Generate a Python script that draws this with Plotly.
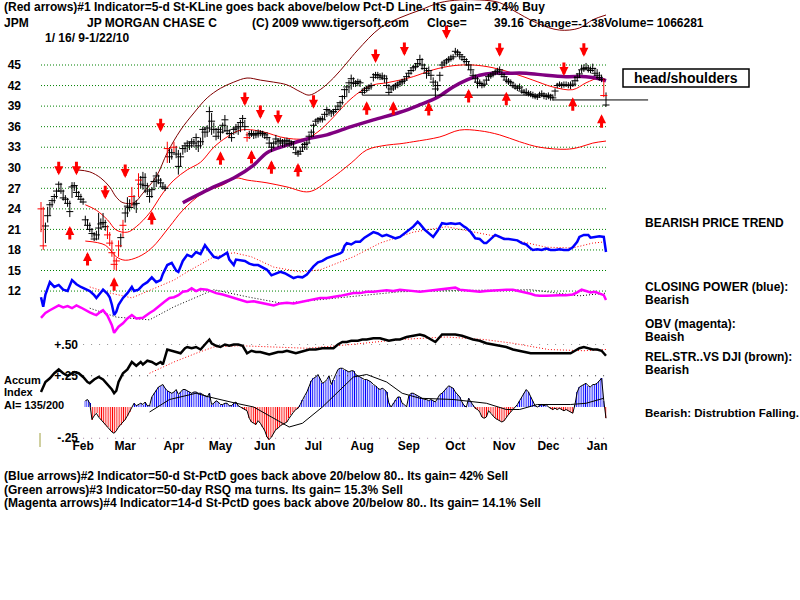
import plotly.graph_objects as go

# ---------------- data (trading-day index 0 = 1/16/09 ... 255 = 1/22/10) -------------
HIGH = [25.0,24.3,22.0,24.3,25.0,25.6,26.2,27.0,28.0,27.8,
        26.8,26.0,25.6,25.2,27.9,27.9,27.4,26.6,26.2,25.6,
        23.0,22.5,22.0,21.2,20.6,20.8,23.4,22.6,23.4,22.4,
        21.6,20.6,19.4,17.6,16.8,19.4,20.4,22.4,24.3,25.7,
        25.4,27.2,26.0,25.3,29.2,28.8,29.4,29.2,27.8,26.8,
        27.2,28.6,29.4,29.0,28.5,27.8,27.6,33.8,33.0,32.8,
        33.8,33.2,32.6,32.2,33.3,33.6,34.0,33.8,34.3,34.2,
        35.0,34.0,34.4,36.0,36.0,36.2,38.9,38.0,36.6,35.8,
        36.0,36.0,36.6,37.7,36.2,35.6,35.2,36.0,36.4,36.5,
        37.0,37.7,37.0,35.2,35.4,35.5,35.4,35.5,35.6,35.5,
        35.4,35.2,35.2,34.5,33.6,34.0,34.8,34.3,34.4,34.2,
        34.3,34.4,34.2,34.0,33.8,33.0,32.6,32.9,33.6,33.8,
        34.0,35.0,35.6,36.5,37.2,37.4,37.5,37.6,38.2,38.9,
        38.6,38.4,38.6,38.9,39.4,39.8,40.6,41.6,42.1,42.8,
        43.6,43.2,42.8,43.0,42.9,41.6,41.8,42.0,42.2,42.4,
        43.8,44.0,44.0,43.8,43.9,43.6,43.5,42.2,42.0,42.2,
        42.4,42.6,42.8,43.0,43.2,43.8,44.2,44.6,45.0,45.3,
        45.8,46.5,46.0,45.2,44.6,44.8,44.2,43.2,42.8,42.6,
        44.0,45.6,45.8,46.0,46.3,46.5,46.6,47.5,47.3,47.0,
        46.6,46.3,46.0,45.5,44.9,44.2,43.6,43.3,42.9,42.6,
        42.7,43.2,43.7,43.9,44.1,44.4,44.6,44.8,44.2,43.8,
        43.3,43.1,42.9,42.6,42.3,42.1,42.3,41.8,41.5,41.6,
        41.3,41.2,41.1,40.9,40.8,41.1,41.3,41.0,40.9,41.0,
        40.8,40.7,41.6,42.4,42.6,42.5,42.6,42.6,42.5,42.6,
        42.7,43.4,43.8,44.3,45.0,45.1,45.3,45.0,44.8,45.2,
        44.6,44.4,44.0,43.6,43.0,41.0]
LOW = [20.6,18.0,19.0,22.0,23.0,24.2,24.8,25.5,26.5,26.2,
       25.2,24.8,24.3,22.8,25.6,26.6,25.8,25.4,24.9,24.6,
       21.6,21.0,20.6,19.8,19.3,19.4,19.5,21.0,21.2,20.8,
       19.6,18.6,17.0,15.1,15.0,17.0,18.4,19.9,22.0,22.8,
       23.6,24.3,24.0,23.4,25.7,27.0,26.8,26.3,26.0,24.9,
       25.6,26.8,27.2,27.6,27.2,26.8,26.6,30.7,30.7,31.2,
       32.3,31.4,29.0,30.2,31.9,32.2,32.3,32.6,32.9,33.0,
       32.6,32.3,32.8,33.3,34.4,34.5,35.2,34.8,35.0,34.0,
       34.2,34.0,35.0,35.2,34.8,34.4,33.8,34.8,35.0,34.8,
       35.2,36.0,35.4,33.8,34.2,34.5,34.2,34.3,34.4,34.6,
       34.4,34.2,34.0,33.0,32.3,32.8,33.3,33.0,33.2,33.0,
       33.0,33.2,33.0,33.2,32.6,31.9,31.6,31.9,32.3,32.6,
       32.6,33.6,34.4,34.5,36.2,36.4,36.6,36.6,37.0,37.4,
       37.6,37.4,37.6,38.0,38.4,38.4,39.2,40.0,40.3,40.9,
       41.4,41.8,41.8,41.9,41.8,40.6,40.8,41.0,41.2,41.4,
       42.6,43.0,42.9,42.8,42.8,42.4,41.6,40.6,41.0,41.2,
       41.4,41.6,41.8,42.0,42.2,42.7,43.2,43.6,44.0,44.2,
       44.6,45.0,44.3,44.0,43.0,43.4,42.8,41.8,40.3,41.2,
       42.6,44.4,44.8,45.1,45.3,45.5,45.7,46.4,46.2,45.8,
       45.6,45.2,44.9,44.3,43.7,43.0,42.4,41.6,41.9,41.6,
       41.7,42.2,42.7,43.0,43.2,43.5,43.6,43.8,43.2,42.8,
       42.3,42.1,41.9,41.6,41.4,41.2,41.3,40.8,40.6,40.5,
       40.4,40.3,40.1,40.0,39.9,40.2,40.3,40.0,39.9,40.0,
       39.8,39.8,40.4,41.6,41.8,41.6,41.7,41.8,41.6,41.5,
       41.8,41.9,42.6,43.1,43.8,44.0,44.2,43.9,43.8,44.0,
       43.4,42.9,42.7,42.5,40.3,38.9]
CLOSE = [24.0,18.6,21.5,23.0,24.6,25.2,25.8,26.6,27.6,26.6,
         25.6,25.4,24.8,23.6,27.2,27.4,26.4,25.8,25.4,25.0,
         22.4,21.6,21.0,20.4,19.6,20.2,21.2,21.8,22.0,21.4,
         20.2,19.0,17.6,15.9,16.4,18.6,19.8,21.6,23.4,24.4,
         24.2,25.8,24.6,24.8,28.2,27.6,28.6,27.4,26.6,25.8,
         26.8,28.0,28.8,28.2,27.8,27.2,27.0,32.8,31.6,32.2,
         33.0,32.0,30.2,31.6,32.8,33.2,33.6,33.2,33.8,33.6,
         34.4,33.2,33.8,35.6,35.2,35.8,38.2,36.8,35.6,34.6,
         35.6,35.2,36.2,37.0,35.4,35.0,34.4,35.6,35.8,36.0,
         36.6,37.2,36.0,34.4,34.8,35.0,34.8,34.8,35.0,35.2,
         35.0,34.8,34.4,33.6,33.0,33.6,34.2,33.8,34.0,33.6,
         33.8,34.0,33.5,33.8,33.0,32.2,32.0,32.4,33.0,33.4,
         33.6,34.6,35.2,36.2,36.8,37.0,37.2,37.0,37.8,38.5,
         38.3,38.0,38.2,38.5,39.0,39.5,40.4,41.4,41.8,42.4,
         43.0,42.4,42.3,42.6,42.4,41.0,41.3,41.6,41.8,42.0,
         43.2,43.6,43.5,43.2,43.4,43.0,42.0,41.0,41.5,41.8,
         42.0,42.2,42.4,42.6,42.8,43.3,43.8,44.2,44.6,44.8,
         45.2,45.8,45.0,44.5,43.8,44.2,43.5,42.5,41.5,42.0,
         43.5,45.0,45.3,45.6,45.8,46.0,46.2,47.0,46.8,46.5,
         46.2,45.8,45.5,45.0,44.3,43.5,43.0,42.5,42.3,42.0,
         42.2,42.8,43.3,43.5,43.7,44.0,44.1,44.3,43.6,43.3,
         42.8,42.6,42.4,42.0,41.8,41.6,41.8,41.2,41.0,41.0,
         40.8,40.7,40.6,40.4,40.3,40.6,40.8,40.5,40.4,40.5,
         40.3,40.2,41.2,42.0,42.2,42.0,42.1,42.1,42.0,42.0,
         42.2,42.7,43.2,43.7,44.3,44.5,44.6,44.4,44.2,44.5,
         43.8,43.5,43.2,42.9,40.54,39.16]
RED_DAYS = [0, 1, 30, 31, 32, 33, 34, 35, 37, 41, 44, 57, 60, 93, 254]

# Bollinger bands / moving averages (day, price)
UPPER_D = [16,22,27,31,34,37,42,46,52,57,63,69,75,81,87,93,99,105,111,117,121,126,132,138,143,153,162,171,180,189,198,207,213,224,234,243,249,255]
UPPER_V = [29.7,29.4,28.5,27.2,25.7,24.9,24.9,26.3,28.7,32.2,35.5,38.0,40.2,41.6,42.5,43.1,42.8,42.5,42.1,41.1,40.6,41.4,43.1,45.3,47.2,50.4,51.9,53.0,54.1,54.5,54.5,54.1,53.0,51.1,50.1,50.4,51.6,52.3]
MID_D = [20,25,30,34,39,43,49,55,60,66,72,78,84,90,96,102,108,114,120,126,132,138,144,150,156,162,168,177,186,195,204,213,222,231,240,246,252,255]
MID_V = [24.6,23.8,22.4,20.9,20.6,21.4,23.4,26.3,28.2,29.7,30.8,33.0,34.5,35.5,35.5,35.1,34.5,34.2,34.3,35.5,37.4,39.5,41.1,42.1,42.4,42.8,43.3,44.3,44.9,45.0,44.6,43.8,42.8,41.8,41.4,42.4,43.1,42.8]
LOWER_D = [20,29,34,38,44,50,58,64,73,82,88,93,102,111,121,130,140,147,156,162,168,180,189,198,207,216,225,237,243,249,255]
LOWER_V = [19.3,18.7,17.0,16.5,17.0,18.3,21.4,23.8,26.3,27.5,28.5,28.2,27.8,27.2,26.5,28.2,30.7,32.6,33.3,33.5,33.8,34.5,35.5,35.4,34.8,33.8,33.0,32.7,33.0,33.6,33.9]
MA50_D = [64,78,87,96,102,111,120,129,140,150,162,171,179,186,192,198,204,210,219,228,237,246,252,255]
MA50_V = [24.9,27.2,28.5,30.4,32.2,33.3,34.2,34.8,36.0,37.0,38.1,39.2,40.3,41.8,42.8,43.5,43.8,43.8,43.8,43.5,43.3,43.3,43.0,42.7]

# head/shoulders neckline (day, price)
NECK1_D = [145, 231]; NECK1_V = [40.6, 40.6]
NECK2_D = [231, 274]; NECK2_V = [39.9, 39.9]

# Red arrows: tip position (day, price)
DOWN_D = [8, 16, 29, 38, 54, 92, 99, 107, 123, 151, 164, 183, 207, 236, 245]
DOWN_V = [28.9, 28.9, 25.4, 28.5, 35.2, 39.0, 37.1, 36.4, 38.6, 45.3, 46.3, 48.8, 46.2, 43.4, 46.2]
UP_D = [13, 21, 33, 50, 81, 95, 104, 116, 147, 159, 175, 193, 210, 240, 253]
UP_V = [21.5, 17.7, 14.0, 23.7, 32.4, 32.6, 31.1, 30.7, 39.7, 39.7, 39.6, 41.5, 41.1, 40.3, 37.8]

# Closing Power (blue) and its MA
CP_D = [0,1,2,4,6,8,10,12,14,16,18,20,22,24,25,27,28,30,31,32,33,34,35,37,39,41,42,44,46,48,50,52,54,55,57,59,61,62,64,66,68,70,72,74,75,76,78,80,82,84,85,87,88,90,92,94,96,98,100,102,104,106,108,110,112,114,116,118,120,121,123,125,127,129,131,133,135,136,137,138,140,142,144,146,148,150,152,154,156,158,160,162,164,166,168,170,171,173,175,177,179,181,183,185,187,189,191,192,194,196,198,200,201,203,205,207,209,211,213,215,217,219,221,222,224,226,228,230,232,234,236,238,240,242,243,245,247,248,250,252,254,255]
CP_V = [11.1,9.7,11.5,13.3,12.6,12.9,12.2,12.0,13.6,13.0,12.6,12.3,12.0,11.4,11.0,11.8,12.2,11.6,11.1,10.0,8.5,9.0,10.0,11.0,11.7,12.6,12.0,12.2,12.9,13.3,14.0,13.3,13.6,14.5,15.8,16.1,15.0,14.8,16.4,17.3,17.0,17.7,17.4,18.7,18.2,17.8,17.0,16.8,17.2,17.6,16.6,15.8,16.6,16.5,16.4,16.0,15.8,15.8,15.4,15.1,14.3,14.6,14.8,14.6,14.2,13.9,14.1,14.0,14.4,14.8,15.6,16.2,16.4,16.8,17.0,17.2,17.5,17.7,18.6,19.0,18.8,19.2,19.2,19.8,20.2,20.6,20.4,20.0,20.2,20.0,19.7,19.9,20.4,20.9,21.4,22.1,21.8,21.0,20.4,19.9,20.8,21.9,21.8,21.9,21.8,21.9,21.4,21.2,20.6,19.7,19.6,19.0,19.0,19.6,20.2,19.9,19.6,19.6,19.5,19.4,19.0,18.8,18.2,18.0,18.1,18.0,18.2,18.0,18.0,18.1,18.0,18.0,18.4,19.2,19.9,20.2,20.2,19.8,19.9,20.0,19.9,17.7]
CPMA_D = [22, 30, 41, 50, 60, 66, 78, 87, 95, 105, 117, 126, 141, 153, 168, 183, 198, 213, 228, 240, 249, 255]
CPMA_V = [12.6, 11.8, 11.0, 12.2, 13.6, 14.8, 17.0, 17.6, 17.0, 15.5, 14.8, 15.1, 17.0, 19.0, 20.6, 21.4, 20.5, 19.5, 18.4, 18.3, 19.0, 19.2]

# OBV (magenta) and its MA
OBV_D = [0,2,4,6,8,10,12,14,16,18,20,22,24,25,27,28,30,32,33,35,37,39,41,43,46,48,49,51,54,56,58,60,62,64,66,68,70,72,75,77,79,82,85,87,90,93,96,99,102,105,108,111,114,117,120,123,126,129,132,135,138,141,144,147,150,153,156,159,162,165,168,171,174,177,180,183,185,187,189,192,195,198,201,204,207,210,213,216,219,221,223,225,228,231,234,237,240,242,244,246,248,250,252,254,255]
OBV_V = [8.1,8.8,9.2,9.6,9.9,9.6,9.8,9.5,9.9,9.6,9.2,8.9,8.6,8.5,9.0,9.2,8.4,7.0,5.9,6.8,7.3,8.0,8.5,8.0,8.1,8.6,8.8,9.2,9.9,10.5,11.0,11.1,11.4,11.9,12.0,12.4,12.0,12.3,12.2,11.9,11.7,11.5,11.2,11.1,10.8,10.4,10.5,10.3,10.1,9.9,10.2,10.3,10.2,10.4,10.6,10.8,11.0,11.0,11.1,11.3,11.5,11.7,11.7,11.9,11.9,12.0,12.1,12.0,12.2,12.1,12.0,11.9,12.0,12.1,12.2,12.3,12.4,12.5,12.2,12.1,12.0,11.9,12.0,12.1,12.1,12.2,12.2,12.0,11.8,11.6,11.4,11.3,11.3,11.4,11.4,11.4,11.5,11.8,12.2,12.0,11.8,11.9,11.7,11.4,10.7]
OBVMA_D = [22, 34, 49, 60, 78, 94, 109, 125, 162, 190, 221, 243, 255]
OBVMA_V = [9.5, 8.2, 7.8, 9.7, 12.2, 11.1, 10.2, 10.7, 11.9, 12.1, 12.2, 11.3, 11.7]

# Relative strength vs DJI (black) and its MA, on the +.25/+.50 scale
RS_D = [0,1,2,4,6,8,10,12,13,15,17,19,21,22,24,26,28,30,32,33,34,35,37,39,41,43,45,46,48,50,52,54,55,57,59,61,63,65,66,68,70,72,74,76,77,79,81,83,85,87,89,91,93,95,97,99,101,103,105,107,109,111,113,115,117,119,121,124,127,130,132,134,136,138,140,143,145,147,150,153,155,157,160,162,165,168,171,173,175,178,180,181,184,187,190,193,195,198,201,204,207,210,213,216,218,221,224,227,230,233,236,239,241,243,245,247,249,251,253,255]
RS_V = [0.12,0.16,0.20,0.23,0.27,0.30,0.27,0.25,0.26,0.28,0.27,0.24,0.20,0.19,0.22,0.24,0.22,0.18,0.14,0.11,0.13,0.20,0.27,0.30,0.36,0.33,0.36,0.34,0.37,0.36,0.34,0.36,0.34,0.46,0.45,0.44,0.43,0.47,0.48,0.47,0.48,0.46,0.50,0.54,0.51,0.49,0.48,0.50,0.49,0.50,0.50,0.49,0.43,0.45,0.44,0.44,0.43,0.42,0.43,0.44,0.44,0.45,0.44,0.43,0.44,0.45,0.46,0.46,0.47,0.47,0.47,0.50,0.52,0.52,0.53,0.53,0.54,0.54,0.55,0.55,0.54,0.53,0.54,0.54,0.56,0.57,0.58,0.57,0.55,0.52,0.56,0.58,0.58,0.58,0.57,0.55,0.54,0.53,0.51,0.50,0.49,0.48,0.46,0.45,0.44,0.43,0.43,0.43,0.43,0.43,0.43,0.43,0.45,0.47,0.48,0.47,0.46,0.46,0.45,0.41]
RSMA_D = [49, 60, 70, 78, 90, 102, 120, 140, 162, 183, 200, 213, 229, 245, 255]
RSMA_V = [0.27, 0.36, 0.43, 0.48, 0.49, 0.48, 0.47, 0.50, 0.54, 0.56, 0.54, 0.51, 0.46, 0.45, 0.46]

# Accumulation Index (daily histogram) and its MA
ACCUM = [None]*20 + [
    0.05,0.06,0.03,-0.10,-0.07,-0.05,-0.08,-0.10,-0.12,-0.14,
    -0.16,-0.18,-0.20,-0.21,-0.19,-0.16,-0.14,-0.12,-0.10,-0.07,
    -0.04,0.00,0.03,0.01,0.02,0.03,0.02,0.04,0.01,0.01,
    0.08,0.11,0.14,0.16,0.17,0.18,0.15,0.13,0.12,0.11,
    0.12,0.14,0.10,0.12,0.14,0.14,0.13,0.12,0.11,0.12,
    0.12,0.11,0.11,0.10,0.09,0.08,0.11,0.02,0.03,0.05,
    0.04,0.02,0.02,0.03,0.03,0.01,0.01,0.03,0.04,0.01,
    0.00,-0.01,-0.02,-0.03,-0.09,-0.12,-0.13,-0.14,-0.11,-0.13,
    -0.16,-0.19,-0.24,-0.26,-0.24,-0.21,-0.18,-0.17,-0.15,-0.14,
    -0.13,-0.12,-0.09,-0.06,-0.04,-0.02,-0.01,0.02,0.06,0.09,
    0.12,0.16,0.21,0.23,0.24,0.26,0.23,0.19,0.20,0.22,
    0.25,0.18,0.22,0.26,0.30,0.31,0.31,0.30,0.29,0.28,
    0.29,0.29,0.26,0.25,0.24,0.23,0.22,0.22,0.21,0.20,
    0.18,0.17,0.15,0.14,0.15,0.14,0.12,0.03,0.00,0.03,
    0.06,0.08,0.08,0.03,0.02,0.00,0.09,0.11,0.11,0.10,
    0.09,0.08,0.07,0.06,0.06,0.05,0.06,0.05,0.04,0.07,
    0.10,0.11,0.13,0.15,0.17,0.16,0.15,0.12,0.10,0.08,
    0.04,0.01,0.00,0.07,0.04,0.01,-0.01,-0.02,-0.04,-0.08,
    -0.09,-0.08,-0.03,-0.05,-0.07,-0.09,-0.10,-0.11,-0.12,-0.11,
    -0.08,-0.06,-0.04,-0.02,0.00,0.02,0.05,0.08,0.11,0.14,
    0.12,0.08,0.05,0.01,0.00,0.01,0.02,0.01,0.02,0.00,
    -0.01,-0.02,-0.01,-0.02,-0.01,-0.02,-0.03,-0.02,-0.03,-0.04,
    -0.05,0.02,0.12,0.16,0.17,0.18,0.19,0.17,0.16,0.18,
    0.18,0.19,0.21,0.23,0.05,-0.09]
AIMA_D = [49, 58, 70, 76, 88, 96, 112, 118, 127, 141, 147, 156, 163, 171, 186, 201, 210, 216, 224, 239, 246, 254]
AIMA_V = [-0.04, 0.06, 0.11, 0.08, 0.03, 0.00, -0.16, -0.13, 0.00, 0.24, 0.26, 0.20, 0.11, 0.07, 0.06, 0.03, -0.02, -0.02, 0.02, 0.02, 0.03, 0.07]

# axes labels
PRICE_TICKS = [12, 15, 18, 21, 24, 27, 30, 33, 36, 39, 42, 45]
AI_TICKS = [0.5, 0.25, -0.25]
AI_TICKTEXT = ['+.50', '+.25', '-.25']
MONTH_START = [10, 29, 51, 72, 92, 114, 136, 157, 178, 200, 220, 242]
MONTHS = ['Feb', 'Mar', 'Apr', 'May', 'Jun', 'Jul', 'Aug', 'Sep', 'Oct', 'Nov', 'Dec', 'Jan']

# ---------------- figure -----------------
FONT = 'Liberation Sans'
W, H = 800, 600
fig = go.Figure()

def seg_xy(xs0, xs1, ys0, ys1):
    X, Y = [], []
    for a, b, c, d in zip(xs0, xs1, ys0, ys1):
        X += [a, b, None]; Y += [c, d, None]
    return X, Y

n = len(CLOSE)
days = list(range(n))
# price gridlines
gx, gy = seg_xy([0]*len(PRICE_TICKS), [255.8]*len(PRICE_TICKS), PRICE_TICKS, PRICE_TICKS)
fig.add_trace(go.Scatter(x=gx, y=gy, mode='lines', line=dict(color='#008000', width=1, dash='1px,2px'), hoverinfo='skip'))
# AI gridlines
for v, col in zip(AI_TICKS, ['#909090', '#303030', '#a080a0']):
    fig.add_trace(go.Scatter(x=[19, 255.8], y=[v, v], yaxis='y2', mode='lines',
                             line=dict(color=col, width=1, dash='1px,7px'), hoverinfo='skip'))

# Accumulation histogram: hatched daily bars
ad = [d for d in days if ACCUM[d] is not None]
av = [ACCUM[d] for d in ad]
fig.add_trace(go.Bar(x=ad, y=av, yaxis='y2', width=1.0,
                     marker=dict(color='white', line=dict(width=0),
                                 pattern=dict(shape='|', size=2.2, solidity=0.45,
                                              fgcolor=['#0000ff' if v >= 0 else '#ff0000' for v in av],
                                              bgcolor='white', fgopacity=1))))
fig.add_trace(go.Scatter(x=ad, y=av, yaxis='y2', mode='lines', line=dict(color='black', width=1)))
fig.add_trace(go.Scatter(x=AIMA_D, y=AIMA_V, yaxis='y2', mode='lines', line=dict(color='black', width=1)))

# Rel strength
fig.add_trace(go.Scatter(x=RSMA_D, y=RSMA_V, yaxis='y2', mode='lines', line=dict(color='red', width=1, dash='1px,2px')))
fig.add_trace(go.Scatter(x=RS_D, y=RS_V, yaxis='y2', mode='lines', line=dict(color='black', width=2.5)))

# OBV
fig.add_trace(go.Scatter(x=OBVMA_D, y=OBVMA_V, mode='lines', line=dict(color='black', width=1, dash='1px,2px')))
fig.add_trace(go.Scatter(x=OBV_D, y=OBV_V, mode='lines', line=dict(color='#ff00ff', width=2.5)))
# Closing power
fig.add_trace(go.Scatter(x=CPMA_D, y=CPMA_V, mode='lines', line=dict(color='red', width=1, dash='1px,2px')))
fig.add_trace(go.Scatter(x=CP_D, y=CP_V, mode='lines', line=dict(color='#0000ff', width=2.5)))

# Bands and MAs
fig.add_trace(go.Scatter(x=UPPER_D, y=UPPER_V, mode='lines', line=dict(color='#800000', width=1, shape='spline')))
fig.add_trace(go.Scatter(x=MID_D, y=MID_V, mode='lines', line=dict(color='#ff0000', width=1, shape='spline')))
fig.add_trace(go.Scatter(x=LOWER_D, y=LOWER_V, mode='lines', line=dict(color='#ff0000', width=1, shape='spline')))
fig.add_trace(go.Scatter(x=MA50_D, y=MA50_V, mode='lines', line=dict(color='#800080', width=3.5, shape='spline')))

# neckline
fig.add_trace(go.Scatter(x=NECK1_D, y=NECK1_V, mode='lines', line=dict(color='black', width=1)))
fig.add_trace(go.Scatter(x=NECK2_D, y=NECK2_V, mode='lines', line=dict(color='black', width=1)))

# price bars
for red in (False, True):
    sel = [d for d in days if (d in RED_DAYS) == red]
    col = '#ff0000' if red else '#000000'
    bx, by = seg_xy(sel, sel, [LOW[d] for d in sel], [HIGH[d] for d in sel])
    fig.add_trace(go.Scatter(x=bx, y=by, mode='lines', line=dict(color=col, width=1)))
    fig.add_trace(go.Scatter(x=sel, y=[CLOSE[d] for d in sel], mode='markers',
                             marker=dict(symbol='line-ew', size=5, line=dict(color=col, width=1))))

ann = []
# arrows
for d, v in zip(DOWN_D, DOWN_V):
    ann.append(dict(x=d, y=v, xref='x', yref='y', text='', showarrow=True, ax=0, ay=-15,
                    arrowhead=2, arrowsize=0.6, arrowwidth=3, arrowcolor='#ff0000'))
for d, v in zip(UP_D, UP_V):
    ann.append(dict(x=d, y=v, xref='x', yref='y', text='', showarrow=True, ax=0, ay=15,
                    arrowhead=2, arrowsize=0.6, arrowwidth=3, arrowcolor='#ff0000'))

def txt(s, x, y, size=12, **kw):
    d = dict(text='<b>%s</b>' % s, x=x / W, y=1 - y / H, xref='paper', yref='paper',
             xanchor='left', yanchor='middle', showarrow=False,
             font=dict(family=FONT, size=size, color='black'))
    d.update(kw)
    ann.append(d)

txt('(Red arrows)#1 Indicator=5-d St-KLine goes back above/below Pct-D Line.. Its gain= 49.4% Buy', 2, 7)
txt('JPM', 2, 23)
txt('JP MORGAN CHASE C', 85, 23)
txt('(C) 2009 www.tigersoft.com', 250, 23)
txt('Close=', 425, 23)
txt('39.16', 492, 23)
txt('Change=-1.38', 527, 23, size=11.5)
txt('Volume= 1066281', 602, 23)
txt('1/ 16/ 9-1/22/10', 43, 38)

txt('head/shoulders', 686, 78, size=14, xanchor='center')

txt('BEARISH PRICE TREND', 643, 223)
txt('CLOSING POWER (blue):', 643, 287)
txt('Bearish', 643, 300)
txt('OBV (magenta):', 643, 324)
txt('Beaish', 643, 337)
txt('REL.STR..VS DJI (brown):', 643, 357)
txt('Bearish', 643, 370)
txt('Bearish: Distrubtion Falling.', 643, 413, size=11.5)
txt('Accum', 2, 380, size=11)
txt('Index', 2, 392, size=11)
txt('AI= 135/200', 2, 405, size=11)
txt('(Blue arrows)#2 Indicator=50-d St-PctD goes back above 20/below 80.. Its gain= 42% Sell', 2, 476)
txt('(Green arrows)#3 Indicator=50-day RSQ ma turns. Its gain= 15.3% Sell', 2, 490)
txt('(Magenta arrows)#4 Indicator=14-d St-PctD goes back above 20/below 80.. Its gain= 14.1% Sell', 2, 503)

x0_px, px_per_day, first_px = 30, 2.2157, 41
r0 = -(first_px - x0_px) / px_per_day
r1 = r0 + (W - x0_px) / px_per_day

fig.update_layout(
    width=W, height=H, margin=dict(l=0, r=0, t=0, b=0),
    paper_bgcolor='white', plot_bgcolor='white', showlegend=False,
    font=dict(family=FONT, size=12, color='black'),
    bargap=0,
    annotations=ann,
    shapes=[dict(type='line', xref='paper', yref='paper', x0=40 / W, x1=40 / W,
                 y0=1 - 433 / H, y1=1 - 447 / H, line=dict(color='#a0a040', width=1)),
            dict(type='rect', xref='paper', yref='paper', x0=623 / W, x1=749 / W,
                 y0=1 - 87 / H, y1=1 - 69 / H, line=dict(color='black', width=1.5))],
    xaxis=dict(domain=[x0_px / W, 1], range=[r0, r1], anchor='free', position=0.272,
               tickvals=[m + 9 for m in MONTH_START], ticktext=MONTHS,
               showgrid=False, zeroline=False, showline=False, ticks='',
               tickfont=dict(family=FONT, size=12, color='black', weight='bold')),
    yaxis=dict(domain=[0, 1], range=[-33.1, 54.49], tickvals=PRICE_TICKS,
               showgrid=False, zeroline=False, showline=False, ticks='', ticklabelstandoff=8,
               tickfont=dict(family=FONT, size=12, color='black', weight='bold')),
    yaxis2=dict(overlaying='y', range=[-1.544, 3.256], anchor='free', position=83 / W, side='left',
                tickvals=AI_TICKS, ticktext=AI_TICKTEXT, showgrid=False, zeroline=False,
                showline=False, ticks='', ticklabelstandoff=5,
                tickfont=dict(family=FONT, size=12, color='black', weight='bold')),
)
fig.write_html('out.html')
